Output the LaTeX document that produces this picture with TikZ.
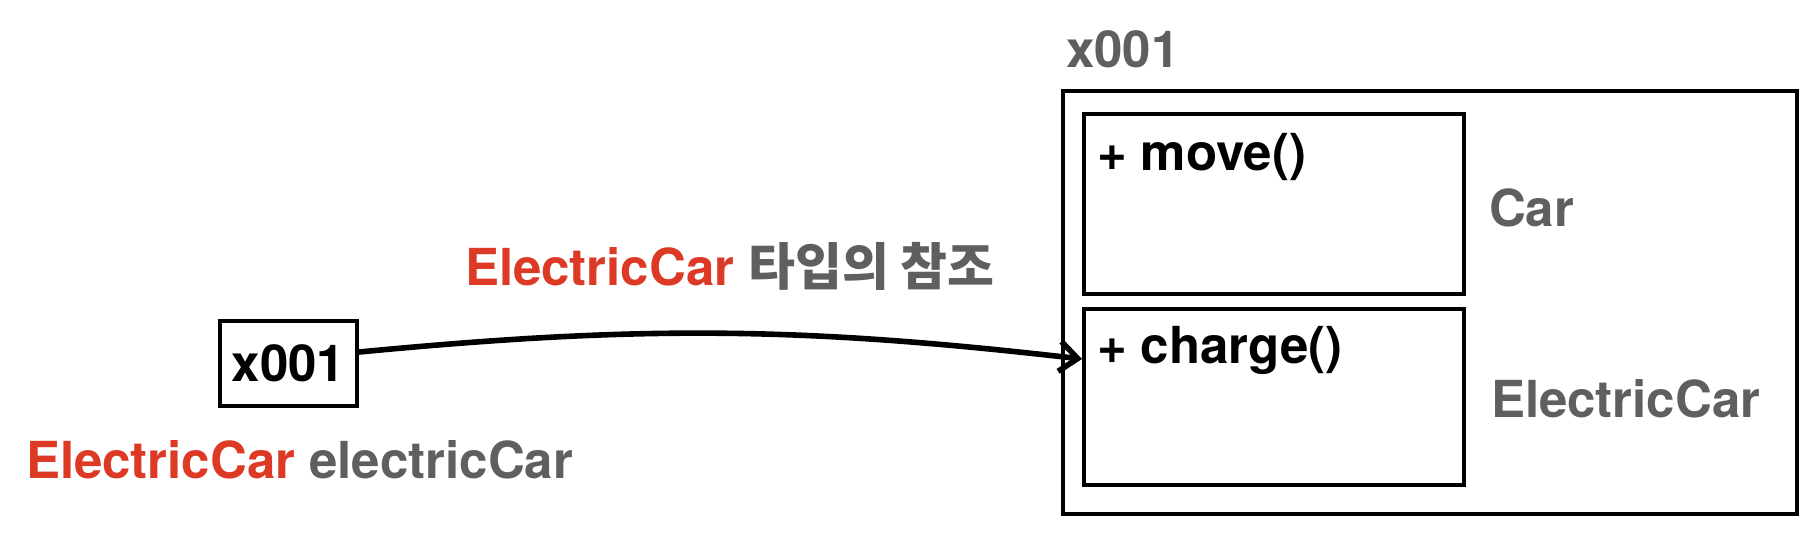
\documentclass[tikz,border=0pt]{standalone}
\usepackage{fontspec}
\setmainfont{TeX Gyre Heros}
\newfontfamily\krfont{Noto Sans CJK KR}
\usepackage{tikz}
\usetikzlibrary{positioning, arrows.meta}

\definecolor{typered}{RGB}{221,58,38}
\definecolor{labelgray}{RGB}{95,95,95}

\begin{document}
\begin{tikzpicture}[x=0.5pt, y=-0.5pt, line width=2pt,
  font=\fontsize{25.5}{30}\selectfont\bfseries,
  box/.style={draw, inner sep=0pt, anchor=north west},
  txt/.style={inner sep=0pt, anchor=west}]
\useasboundingbox (0,0) rectangle (1818,532);

\node (obj) [box, minimum width=367pt, minimum height=211.5pt] at (1061,89) {};
\node (carbox) [box, minimum width=190pt, minimum height=90pt] at (1082,112) {};
\node (chgbox) [box, minimum width=190pt, minimum height=88pt] at (1082,307) {};

\node (addr) [txt, text=labelgray] at (1064,49) {x001};
\node (move) [txt] at (1095,157) {+ move()};
\node (charge) [txt] at (1095,350) {+ charge()};
\node (car) [txt, text=labelgray] at (1487,208) {Car};
\node (ecar) [txt, text=labelgray] at (1489,399) {ElectricCar};

\node (ref) [draw, minimum width=68.5pt, minimum height=42.5pt, inner sep=0pt] at (288.5,363.5) {x001};
\node (var) [txt] at (24,460) {\textcolor{typered}{ElectricCar} \textcolor{labelgray}{electricCar}};
\node (reflabel) [txt] at (463,266) {\textcolor{typered}{ElectricCar} \textcolor{labelgray}{\krfont 타입의 참조}};

\draw[-{Straight Barb[length=9pt, width=15pt]}, line width=2.8pt]
  (ref.east |- 0,352) to[bend left=6] ([yshift=-26pt]chgbox.north west);
\end{tikzpicture}
\end{document}
